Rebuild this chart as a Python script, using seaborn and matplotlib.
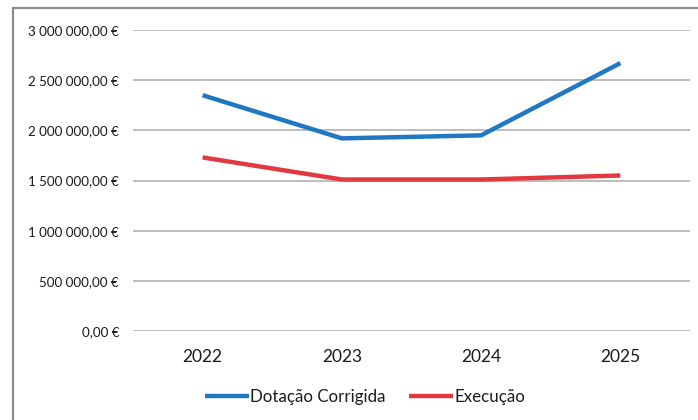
import matplotlib
matplotlib.use("Agg")
import matplotlib.pyplot as plt
import matplotlib.patches as mpatches
import seaborn as sns
import pandas as pd

# Budget figures per year
years = ["2022", "2023", "2024", "2025"]
dotacao_corrigida = [2350000, 1920000, 1950000, 2670000]
execucao = [1730000, 1510000, 1510000, 1550000]
series_names = ["Dotação Corrigida", "Execução"]
y_ticks = [0, 500000, 1000000, 1500000, 2000000, 2500000, 3000000]

df = pd.DataFrame({
    "Ano": years * 2,
    "Valor": dotacao_corrigida + execucao,
    "Série": [series_names[0]] * len(years) + [series_names[1]] * len(years),
})

sns.set_theme(style="white")
plt.rcParams["font.family"] = ["Lato", "DejaVu Sans"]

W, H = 698, 420
fig = plt.figure(figsize=(W / 100, H / 100), dpi=100)
ax = fig.add_axes([133 / W, 1 - 331 / H, (690 - 133) / W, (331 - 30) / H])

palette = {series_names[0]: "#1f78c1", series_names[1]: "#e2393f"}
sns.lineplot(data=df, x="Ano", y="Valor", hue="Série", palette=palette,
             linewidth=3.2, ax=ax, sort=False, legend=True)
for ln in ax.lines:
    ln.set_solid_capstyle("butt")
    ln.set_solid_joinstyle("miter")

ax.set_xlim(-0.5, len(years) - 0.5)
ax.set_ylim(0, 3000000)
ax.set_yticks(y_ticks)


def euro(v):
    s = f"{v:,.2f}"
    s = s.replace(",", " ").replace(".", ",")
    return s + " €"


ax.set_yticklabels([euro(v) for v in y_ticks])
ax.set_xlabel("")
ax.set_ylabel("")
ax.grid(axis="y", color="#b8b8b8", linewidth=1.3)
ax.set_axisbelow(True)
for sp in ax.spines.values():
    sp.set_visible(False)
ax.tick_params(axis="y", length=0, pad=10, labelsize=9.6, labelcolor="#1a1a1a")
ax.tick_params(axis="x", length=0, pad=13, labelsize=12.5, labelcolor="#1a1a1a")

handles, labels = ax.get_legend_handles_labels()
ax.legend_.remove()
fig.legend(handles, labels, loc="center", bbox_to_anchor=(365 / W, 1 - 397 / H),
           ncol=2, frameon=False, fontsize=12.2, handlelength=2.6,
           handletextpad=0.05, columnspacing=1.4, labelcolor="#1a1a1a")

# Chart frame
frame = mpatches.Rectangle((13 / W, -0.05), 1.0, 1 - 8 / H + 0.05,
                           transform=fig.transFigure, fill=False,
                           edgecolor="#8c8c8c", linewidth=1.6)
fig.patches.append(frame)

fig.savefig("out.png", dpi=100, facecolor="white")
